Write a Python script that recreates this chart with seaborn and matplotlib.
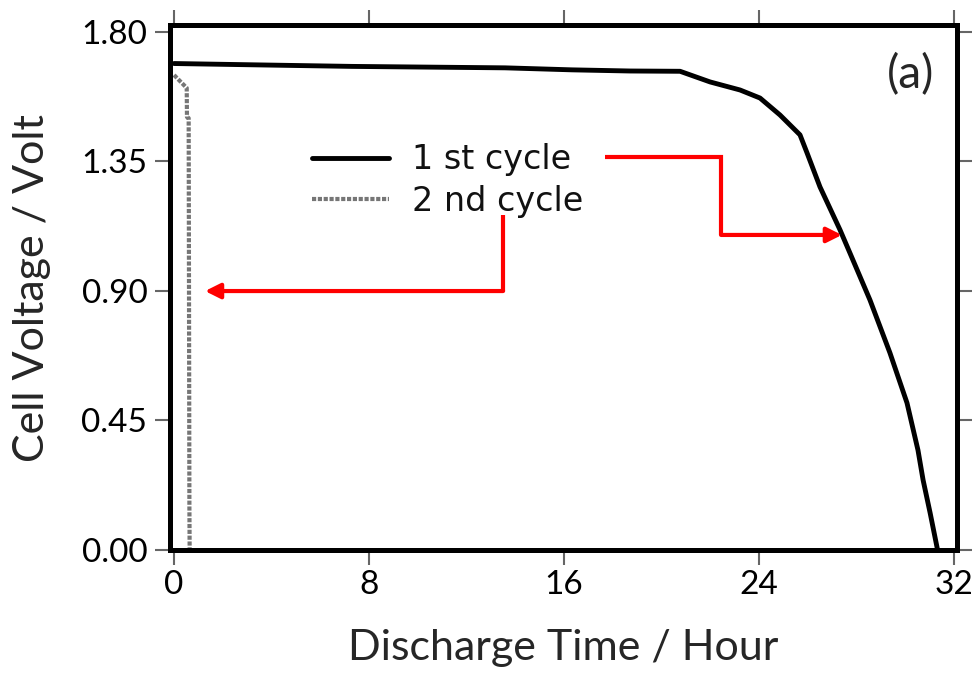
import matplotlib
matplotlib.use("Agg")
import matplotlib.pyplot as plt
import seaborn as sns
import pandas as pd

# Discharge curves (time in hours, voltage in volts)
cycle1_time = [0.0, 3.61, 7.30, 13.58, 16.33, 18.71, 20.76, 21.99, 23.22, 24.04,
               24.86, 25.68, 25.97, 26.50, 27.32, 27.73, 28.55, 29.37, 30.07,
               30.52, 30.73, 31.02, 31.30, 31.32]
cycle1_volt = [1.690, 1.685, 1.680, 1.675, 1.668, 1.664, 1.663, 1.626, 1.598, 1.570,
               1.511, 1.442, 1.379, 1.261, 1.112, 1.031, 0.868, 0.684, 0.510,
               0.346, 0.242, 0.127, 0.009, 0.0]

cycle2_time = [0.0, 0.52, 0.53, 0.60, 0.62, 0.63, 0.64]
cycle2_volt = [1.650, 1.605, 1.504, 1.500, 0.600, 0.148, 0.0]

series_labels = ["1 st cycle", "2 nd cycle"]
x_ticks = [0, 8, 16, 24, 32]
y_ticks = [0.00, 0.45, 0.90, 1.35, 1.80]

# Callout paths (data coordinates), each ending in an arrowhead
callout1 = [(17.68, 1.365), (22.44, 1.365), (22.44, 1.094), (27.40, 1.094)]
callout2 = [(13.50, 1.163), (13.50, 0.899), (1.27, 0.899)]

df = pd.concat([
    pd.DataFrame({"time": cycle1_time, "volt": cycle1_volt, "cycle": series_labels[0]}),
    pd.DataFrame({"time": cycle2_time, "volt": cycle2_volt, "cycle": series_labels[1]}),
], ignore_index=True)

sns.set_style("ticks")
plt.rcParams["font.family"] = ["Lato", "DejaVu Sans"]

fig = plt.figure(figsize=(9.8, 6.92), dpi=100)
ax = fig.add_axes([0.173, 0.2045, 0.804, 0.7594])

sns.lineplot(data=df, x="time", y="volt", hue="cycle", style="cycle",
             palette={series_labels[0]: "black", series_labels[1]: "#767676"},
             dashes={series_labels[0]: "", series_labels[1]: (1, 0.4)},
             sort=False, estimator=None, ax=ax, legend=False)
lines = ax.get_lines()
lines[0].set_linewidth(3.5)
lines[1].set_linewidth(3.0)

ax.set_xlim(-0.185, 32.14)
ax.set_ylim(-0.003, 1.824)
ax.set_xticks(x_ticks)
ax.set_xticklabels([str(t) for t in x_ticks])
ax.set_yticks(y_ticks)
ax.set_yticklabels([f"{t:.2f}" for t in y_ticks])

for sp in ax.spines.values():
    sp.set_visible(True)
    sp.set_linewidth(3.6)
    sp.set_color("black")

ax.tick_params(which="both", top=True, right=True, labeltop=False, labelright=False,
               direction="out", length=11, width=1.5, color="#666666",
               labelsize=24, labelcolor="black")
ax.tick_params(axis="x", pad=3)
ax.tick_params(axis="y", pad=5)

ax.set_xlabel("Discharge Time / Hour", fontsize=31, labelpad=21)
ax.set_ylabel("Cell Voltage / Volt", fontsize=31, labelpad=22)

leg = ax.legend(handles=lines, labels=series_labels, loc="upper left",
                bbox_to_anchor=(0.181, 0.775), frameon=False,
                prop={"family": "DejaVu Sans", "size": 24},
                handlelength=2.3, handletextpad=0.7, labelspacing=0.25,
                borderpad=0, borderaxespad=0)
for t in leg.get_texts():
    t.set_color("#111111")

ax.text(0.97, 0.905, "(a)", transform=ax.transAxes, fontsize=33,
        ha="right", va="center")

for path in (callout1, callout2):
    xs = [p[0] for p in path]
    ys = [p[1] for p in path]
    ax.plot(xs[:-1], ys[:-1], color="red", lw=3, solid_capstyle="butt",
            solid_joinstyle="miter")
    ax.annotate("", xy=path[-1], xytext=path[-2],
                arrowprops=dict(arrowstyle="-|>,head_length=0.9,head_width=0.45",
                                color="red", lw=3, shrinkA=0, shrinkB=0))

fig.savefig("out.png", dpi=100)
